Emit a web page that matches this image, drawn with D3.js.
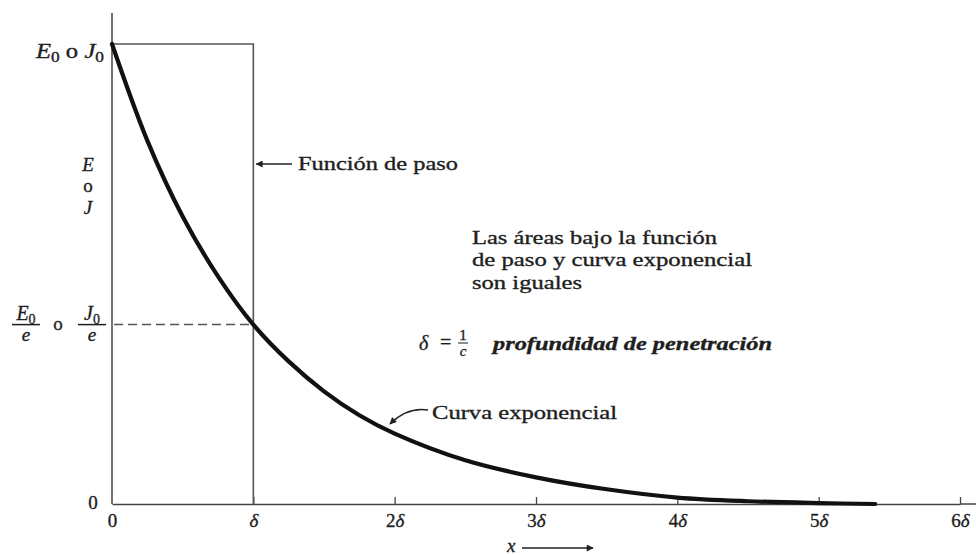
<!DOCTYPE html>
<html>
<head>
<meta charset="utf-8">
<script src="https://cdn.jsdelivr.net/npm/d3@7"></script>
<style>
  body { margin: 0; background: #fff; }
  svg { display: block; font-family: "Liberation Serif", "Times New Roman", serif; }
  text { fill: #1e1e1e; stroke: #1e1e1e; stroke-width: 0.35px; }
</style>
</head>
<body>
<div id="chart"></div>
<script>
// data (x in units of delta, y relative to E0)
let curveX = [0, 0.25, 0.5, 0.75, 1, 1.25, 1.5, 1.75, 2, 2.5, 3, 3.5, 4, 4.5, 5, 5.4];
let curveY = [1.0, 0.79, 0.625, 0.495, 0.39, 0.31, 0.245, 0.193, 0.153, 0.095, 0.058, 0.032, 0.014, 0.006, 0.002, 0.0];
let stepX = [0, 1, 1];
let stepY = [1, 1, 0];
let dashLevel = 0.39;
let xTicks = [0, 1, 2, 3, 4, 5, 6];
let xTickNums = ["0", "", "2", "3", "4", "5", "6"];
let xTickDelta = ["", "δ", "δ", "δ", "δ", "δ", "δ"];

let width = 976, height = 555;

let svg = d3.select("#chart").append("svg")
    .attr("width", width)
    .attr("height", height);

let x = d3.scaleLinear().domain([0, 6]).range([112, 960]);
let y = d3.scaleLinear().domain([0, 1]).range([504, 44]);

// arrow heads
let defs = svg.append("defs");
defs.append("marker")
    .attr("id", "arrow")
    .attr("viewBox", "0 0 10 10")
    .attr("refX", 9).attr("refY", 5)
    .attr("markerWidth", 9).attr("markerHeight", 7)
    .attr("markerUnits", "userSpaceOnUse")
    .attr("orient", "auto")
    .append("path")
    .attr("d", "M0,0 L10,5 L0,10 z")
    .attr("fill", "#222");

// x axis
let xAxis = d3.axisBottom(x)
    .tickValues(xTicks)
    .tickSizeInner(-7)
    .tickSizeOuter(0)
    .tickPadding(10)
    .tickFormat("");

let gx = svg.append("g")
    .attr("transform", "translate(0," + y(0) + ")")
    .call(xAxis);
gx.select(".domain").attr("stroke", "#444").attr("stroke-width", 1.5);
gx.selectAll(".tick line").attr("stroke", "#444").attr("stroke-width", 1.3);
gx.selectAll(".tick").filter(d => d === 0).select("line").remove();
gx.selectAll(".tick text").each(function(d, i) {
    let t = d3.select(this)
        .attr("font-family", "Liberation Serif")
        .attr("font-size", 19)
        .attr("fill", "#1e1e1e");
    if (xTickNums[i]) t.append("tspan").text(xTickNums[i]);
    if (xTickDelta[i]) t.append("tspan").attr("font-style", "italic").text(xTickDelta[i]);
});

// axis extension to the right and y axis
svg.append("line")
    .attr("x1", x(6)).attr("x2", width)
    .attr("y1", y(0)).attr("y2", y(0))
    .attr("stroke", "#444").attr("stroke-width", 1.5);

svg.append("line")
    .attr("x1", x(0)).attr("x2", x(0))
    .attr("y1", 13).attr("y2", y(0))
    .attr("stroke", "#444").attr("stroke-width", 1.5);

// step function
let stepData = stepX.map((d, i) => [d, stepY[i]]);
svg.append("path")
    .datum(stepData)
    .attr("d", d3.line().x(d => x(d[0])).y(d => y(d[1])))
    .attr("fill", "none")
    .attr("stroke", "#555")
    .attr("stroke-width", 1.6);

// dashed 1/e level
svg.append("line")
    .attr("x1", x(0) + 2).attr("x2", x(1))
    .attr("y1", y(dashLevel)).attr("y2", y(dashLevel))
    .attr("stroke", "#555")
    .attr("stroke-width", 1.5)
    .attr("stroke-dasharray", "9,5");

// exponential curve
let curveData = curveX.map((d, i) => [d, curveY[i]]);
svg.append("path")
    .datum(curveData)
    .attr("d", d3.line().x(d => x(d[0])).y(d => y(d[1])).curve(d3.curveCatmullRom.alpha(0.5)))
    .attr("fill", "none")
    .attr("stroke", "#111")
    .attr("stroke-width", 4.2)
    .attr("stroke-linecap", "round");

// helper for stretched text
function label(tx, ty, str, len, opts) {
    opts = opts || {};
    let t = svg.append("text")
        .attr("x", tx).attr("y", ty)
        .attr("font-size", opts.size || 19)
        .text(str);
    if (opts.italic) t.attr("font-style", "italic");
    if (opts.bold) t.attr("font-weight", "bold");
    if (opts.anchor) t.attr("text-anchor", opts.anchor);
    if (len) t.attr("textLength", len).attr("lengthAdjust", "spacingAndGlyphs");
    return t;
}

// y labels
let topLabel = svg.append("text")
    .attr("x", 36).attr("y", y(1) + 14)
    .attr("font-size", 20)
    .attr("font-style", "italic")
    .attr("textLength", 68)
    .attr("lengthAdjust", "spacingAndGlyphs");
topLabel.append("tspan").text("E");
topLabel.append("tspan").attr("dy", 4).attr("font-size", 14).attr("font-style", "normal").text("0");
topLabel.append("tspan").attr("dy", -4).attr("font-style", "normal").text(" o ");
topLabel.append("tspan").text("J");
topLabel.append("tspan").attr("dy", 4).attr("font-size", 14).attr("font-style", "normal").text("0");

label(88, 171, "E", null, {italic: true, anchor: "middle", size: 19});
label(88, 192, "o", null, {anchor: "middle", size: 19});
label(88, 214, "J", null, {italic: true, anchor: "middle", size: 19});

label(93, y(0) + 5, "0", null, {anchor: "middle", size: 19});

// fraction labels at the dashed level
let fy = y(dashLevel);
function frac(cx, letter) {
    let t = svg.append("text")
        .attr("x", cx).attr("y", fy - 5)
        .attr("text-anchor", "middle")
        .attr("font-size", 20)
        .attr("font-style", "italic");
    t.append("tspan").text(letter);
    t.append("tspan").attr("dy", 4).attr("font-size", 14).attr("font-style", "normal").text("0");
    svg.append("line")
        .attr("x1", cx - 14).attr("x2", cx + 14)
        .attr("y1", fy).attr("y2", fy)
        .attr("stroke", "#1e1e1e").attr("stroke-width", 1.5);
    label(cx, fy + 16, "e", null, {italic: true, anchor: "middle", size: 19});
}
frac(26, "E");
label(58, fy + 5, "o", null, {anchor: "middle", size: 19});
frac(92, "J");

// Función de paso
svg.append("line")
    .attr("x1", 292).attr("x2", x(1) + 3)
    .attr("y1", 164).attr("y2", 164)
    .attr("stroke", "#222").attr("stroke-width", 1.4)
    .attr("marker-end", "url(#arrow)");
label(298, 170, "Función de paso", 160);

// areas note
label(472, 244, "Las áreas bajo la función", 245);
label(472, 266, "de paso y curva exponencial", 280);
label(472, 289, "son iguales", 110);

// delta definition
label(419, 350, "δ", null, {italic: true, size: 20});
label(440, 349, "=", null, {size: 20});
label(463, 340, "1", null, {anchor: "middle", size: 15});
svg.append("line")
    .attr("x1", 458).attr("x2", 468)
    .attr("y1", 343).attr("y2", 343)
    .attr("stroke", "#1e1e1e").attr("stroke-width", 1);
label(463, 356, "c", null, {italic: true, anchor: "middle", size: 15});
label(493, 350, "profundidad de penetración", 279, {italic: true, bold: true});

// Curva exponencial
svg.append("path")
    .attr("d", "M428,410 C415,408 402,412 390,424")
    .attr("fill", "none")
    .attr("stroke", "#222").attr("stroke-width", 1.4)
    .attr("marker-end", "url(#arrow)");
label(432, 419, "Curva exponencial", 185);

// x arrow label
label(507, 552, "x", null, {italic: true, size: 19});
svg.append("line")
    .attr("x1", 522).attr("x2", 593)
    .attr("y1", 548).attr("y2", 548)
    .attr("stroke", "#222").attr("stroke-width", 1.3)
    .attr("marker-end", "url(#arrow)");
</script>
</body>
</html>
